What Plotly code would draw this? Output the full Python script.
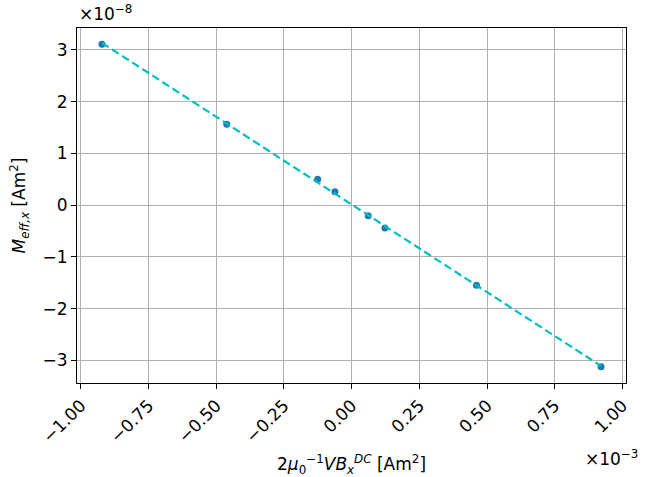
import numpy as np
import plotly.graph_objects as go

# Data (SI units)
x_vals = [-0.922e-3, -0.461e-3, -0.1255e-3, -0.0616e-3, 0.0613e-3, 0.123e-3, 0.461e-3, 0.921e-3]
y_vals = [3.11e-8, 1.56e-8, 0.497e-8, 0.259e-8, -0.205e-8, -0.445e-8, -1.547e-8, -3.126e-8]

x_scale = 1e-3
y_scale = 1e-8

x_ticks = [-1.0, -0.75, -0.5, -0.25, 0.0, 0.25, 0.5, 0.75, 1.0]
x_ticktext = ["\u22121.00", "\u22120.75", "\u22120.50", "\u22120.25", "0.00", "0.25", "0.50", "0.75", "1.00"]
y_ticks = [-3, -2, -1, 0, 1, 2, 3]
y_ticktext = ["\u22123", "\u22122", "\u22121", "0", "1", "2", "3"]

xs = np.array(x_vals) / x_scale
ys = np.array(y_vals) / y_scale

slope, intercept = np.polyfit(xs, ys, 1)
fit_x = np.array([xs.min(), xs.max()])
fit_y = slope * fit_x + intercept

font = "DejaVu Sans"

fig = go.Figure()
fig.add_trace(go.Scatter(x=xs, y=ys, mode="markers",
                         marker=dict(color="#1f77b4", size=7, line=dict(width=0)),
                         showlegend=False))
fig.add_trace(go.Scatter(x=fit_x, y=fit_y, mode="lines",
                         line=dict(color="#00bfbf", width=2.2, dash="8px,4px"),
                         showlegend=False))

xpad = 0.05 * (xs.max() - xs.min())
ypad = 0.05 * (ys.max() - ys.min())

axis_common = dict(showline=True, linecolor="black", linewidth=1, mirror=True,
                   showgrid=True, gridcolor="#b0b0b0", gridwidth=1,
                   ticks="outside", ticklen=5, tickcolor="black", tickwidth=1,
                   zeroline=False, automargin=False,
                   tickfont=dict(family=font, size=17, color="black"))

fig.update_xaxes(range=[xs.min() - xpad, xs.max() + xpad], tickmode="array",
                 tickvals=x_ticks, ticktext=x_ticktext, tickangle=-45,
                 title=dict(text="2<i>\u03bc</i><sub>0</sub><sup>\u22121</sup><i>VB</i><sub><i>x</i></sub><sup><i>DC</i></sup> [Am<sup>2</sup>]",
                            font=dict(family=font, size=17, color="black"), standoff=14),
                 **axis_common)
fig.update_yaxes(range=[ys.min() - ypad, ys.max() + ypad], tickmode="array",
                 tickvals=y_ticks, ticktext=y_ticktext,
                 title=dict(text="<i>M</i><sub><i>eff,x</i></sub> [Am<sup>2</sup>]",
                            font=dict(family=font, size=17, color="black"), standoff=12),
                 **axis_common)

fig.add_annotation(xref="paper", yref="paper", x=0.0, y=1.0, xanchor="left", yanchor="bottom",
                   text="\u00d710<sup>\u22128</sup>", showarrow=False, yshift=2,
                   font=dict(family=font, size=17, color="black"))
fig.add_annotation(xref="paper", yref="paper", x=1.0, y=0.0, xanchor="right", yanchor="top",
                   text="\u00d710<sup>\u22123</sup>", showarrow=False, yshift=-62, xshift=14,
                   font=dict(family=font, size=17, color="black"))

fig.update_layout(width=650, height=477, plot_bgcolor="white", paper_bgcolor="white",
                  margin=dict(l=77, r=24, t=28, b=94), font=dict(family=font))

fig.write_html("out.html")
